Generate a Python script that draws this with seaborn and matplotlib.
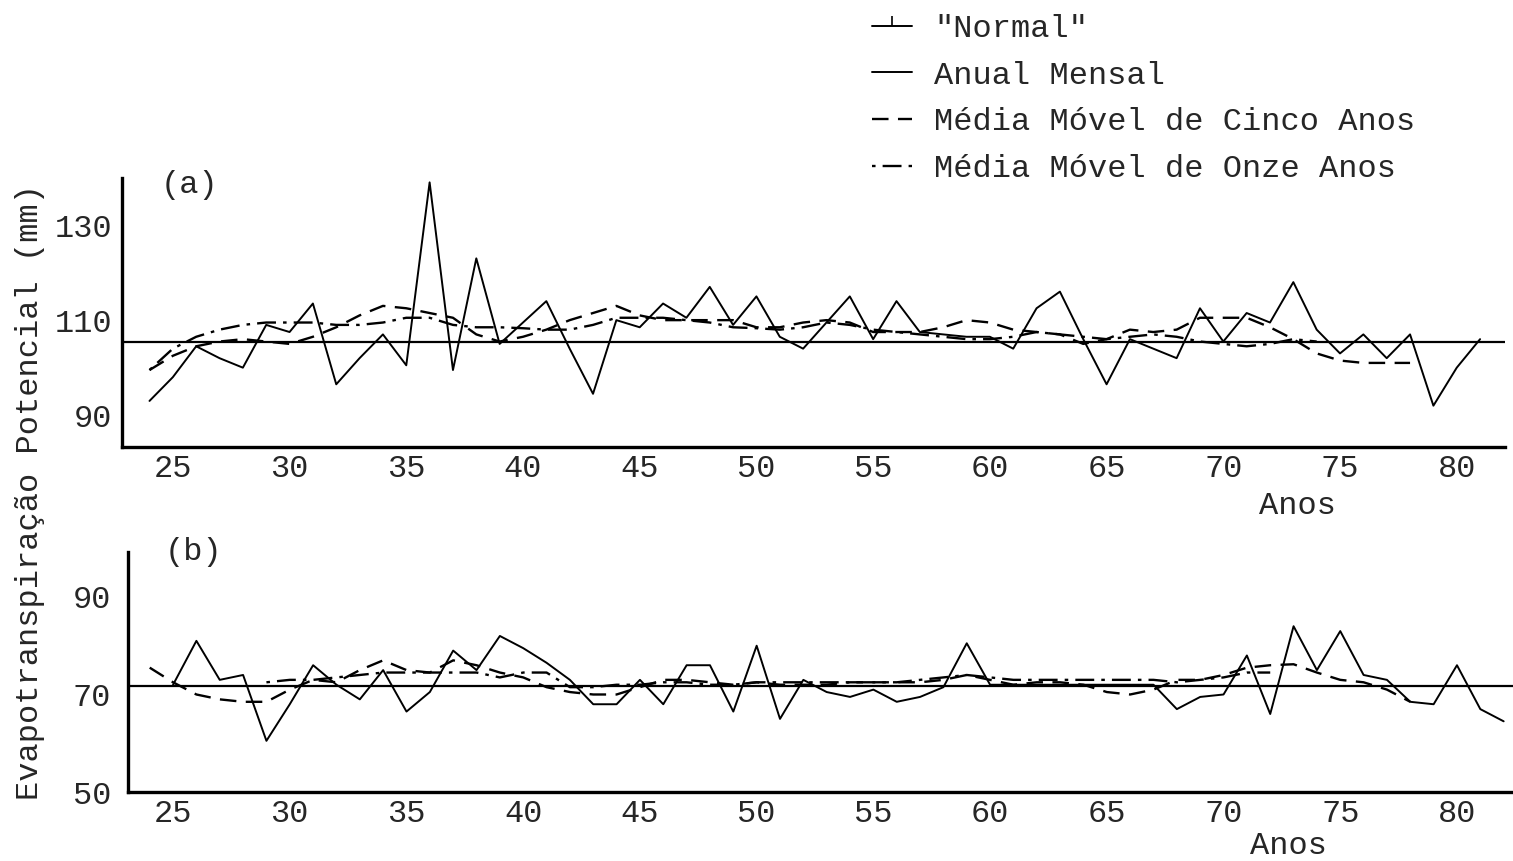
import matplotlib
matplotlib.use('Agg')
import matplotlib.pyplot as plt
import seaborn as sns
from matplotlib.lines import Line2D

# estilo do gráfico (máquina de escrever)
sns.set_style('white')
plt.rcParams['font.family'] = ['Liberation Mono', 'DejaVu Sans Mono']

# ---- dados ----
# (a)
anos_a = list(range(24, 82))
anual_a = [93, 98, 104.5, 102, 100, 109, 107.5, 113.5, 96.5, 102,
           107, 100.5, 139, 99.5, 123, 105, 109.5, 114, 104, 94.5,
           110, 108.5, 113.5, 110.5, 117, 109, 115, 106.5, 104, 109.5,
           115, 106, 114, 107.5, 107, 106.5, 106.5, 104, 112.5, 116,
           106, 96.5, 106, 104, 102, 112.5, 105.5, 111.5, 109.5, 118,
           108, 103, 107, 102, 107, 92, 100, 106]
anos_a5 = list(range(24, 79))
media5_a = [99.5, 102.5, 104.5, 105.5, 106, 105.5, 105, 106.5, 108.5, 111,
            113, 112.5, 111.5, 110.5, 107, 105.5, 106.5, 108, 110, 111.5,
            113, 111, 110, 110, 110, 110, 108.5, 108.5, 109.5, 110,
            109.5, 107.5, 107.5, 107.5, 108.5, 110, 109.5, 108, 107.5, 107,
            105, 106, 108, 107.5, 108, 110.5, 110.5, 110.5, 108.5, 106,
            103, 101.5, 101, 101, 101]
anos_a11 = list(range(24, 75))
media11_a = [99.5, 104, 106.5, 108, 109, 109.5, 109.5, 109.5, 109, 109,
             109.5, 110.5, 110.5, 109, 108.5, 108.5, 108.3, 108, 108, 109,
             110.5, 110.5, 110.5, 110, 109.5, 108.5, 108.3, 108, 108.5, 109.5,
             109, 108, 107.5, 107, 106.5, 106, 106, 106.5, 107.5, 107,
             106.5, 106, 106.5, 107, 106.5, 105.5, 105, 104.5, 105, 106,
             105.5]
normal_a = 105.5

# (b)
anos_b = list(range(25, 83))
anual_b = [72, 81, 73, 74, 60.5, 68, 76, 72, 69, 75,
           66.5, 70.5, 79, 75, 82, 79.5, 76.5, 73, 68, 68,
           73, 68, 76, 76, 66.5, 80, 65, 73, 70.5, 69.5,
           71, 68.5, 69.5, 71.5, 80.5, 72, 72, 72, 72, 72,
           72, 72, 72, 67, 69.5, 70, 78, 66, 84, 75,
           83, 74, 73, 68.5, 68, 76, 67, 64.5]
anos_b5 = list(range(24, 79))
media5_b = [75.5, 72.5, 70, 69, 68.5, 68.5, 71, 73, 72.5, 75,
            77, 75, 74.5, 77, 76, 74.5, 73.5, 71.5, 70.5, 70,
            70, 71.5, 73, 73, 72.5, 72, 72.5, 72, 72, 72,
            72.5, 72.5, 72.5, 72.5, 73, 74, 73, 72, 72.5, 72.5,
            72, 70.5, 70, 71, 73, 73, 74, 75.5, 76, 76.2,
            74.5, 73, 72.5, 71, 68.5]
anos_b11 = list(range(29, 73))
media11_b = [72.5, 73, 73, 73.5, 74, 74.5, 74.5, 74.5, 74.5, 74.5,
             73.5, 74.5, 74.5, 71.5, 71.5, 72, 72, 72.5, 72.5, 72,
             72, 72.5, 72.5, 72.5, 72.5, 72.5, 72.5, 72.5, 73, 73.5,
             74, 73.5, 73, 73, 73, 73, 73, 73, 73, 72.5,
             73, 73.5, 74.5, 74.5]
normal_b = 71.8

# ---- figura ----
fig = plt.figure(figsize=(15.13, 8.61), dpi=100)
ax_a = fig.add_axes([0.0806, 0.4808, 0.914, 0.3124])
ax_b = fig.add_axes([0.0846, 0.0801, 0.9154, 0.2787])

tracado5 = (0, (7, 4))
tracado11 = (0, (1.5, 3, 8, 3))
fs = 23

def painel(ax, anos, anual, anos5, m5, anos11, m11, normal):
    ax.axhline(normal, color='black', lw=1.6)
    sns.lineplot(x=anos, y=anual, ax=ax, color='black', lw=1.4)
    sns.lineplot(x=anos5, y=m5, ax=ax, color='black', lw=1.7, linestyle=tracado5)
    sns.lineplot(x=anos11, y=m11, ax=ax, color='black', lw=1.7, linestyle=tracado11)
    sns.despine(ax=ax)
    for s in ['left', 'bottom']:
        ax.spines[s].set_linewidth(2.4)
        ax.spines[s].set_color('black')
    ax.set_xticks(range(25, 85, 5))
    ax.tick_params(axis='x', direction='in', length=9, width=1.2, pad=5, labelsize=fs)
    ax.tick_params(axis='y', direction='in', length=9, width=1.2, pad=7, labelsize=fs)
    ax.set_ylabel('')

# (a)
painel(ax_a, anos_a, anual_a, anos_a5, media5_a, anos_a11, media11_a, normal_a)
ax_a.set_xlim(22.82, 82.06)
ax_a.set_ylim(83.3, 139.9)
ax_a.set_yticks([90, 100, 110, 120, 130])
ax_a.set_yticklabels(['90', '', '110', '', '130'])
ax_a.set_xlabel('Anos', fontsize=fs)
ax_a.xaxis.set_label_coords(0.85, -0.165)
ax_a.text(0.049, 0.974, '(a)', transform=ax_a.transAxes, fontsize=fs,
          ha='center', va='center')

# (b)
painel(ax_b, anos_b, anual_b, anos_b5, media5_b, anos_b11, media11_b, normal_b)
ax_b.set_xlim(23.07, 82.4)
ax_b.set_ylim(51.2, 99.2)
ax_b.set_yticks([50, 60, 70, 80, 90])
ax_b.set_yticklabels(['50', '', '70', '', '90'])
ax_b.tick_params(axis='y', pad=12)
ax_b.set_xlabel('Anos', fontsize=fs)
ax_b.xaxis.set_label_coords(0.838, -0.163)
ax_b.text(0.047, 1.0, '(b)', transform=ax_b.transAxes, fontsize=fs,
          ha='center', va='center')

# rótulo comum do eixo y
fig.text(30 / 1513, 1 - 492 / 861, 'Evapotranspiração Potencial (mm)',
         rotation=90, fontsize=fs, ha='center', va='center')

# legenda
alcas = [
    Line2D([0], [0], color='black', lw=1.4, marker=2, markersize=7, markeredgewidth=1.2),
    Line2D([0], [0], color='black', lw=1.4),
    Line2D([0], [0], color='black', lw=1.7, linestyle=tracado5),
    Line2D([0], [0], color='black', lw=1.7, linestyle=tracado11),
]
rotulos = ['"Normal"', 'Anual Mensal', 'Média Móvel de Cinco Anos',
           'Média Móvel de Onze Anos']
fig.legend(alcas, rotulos, loc='upper left', bbox_to_anchor=(872 / 1513, 1 - 14 / 861),
           frameon=False, fontsize=fs, handlelength=1.25, handletextpad=0.7,
           labelspacing=0.52, borderaxespad=0, borderpad=0)

fig.savefig('out.png', dpi=100)
